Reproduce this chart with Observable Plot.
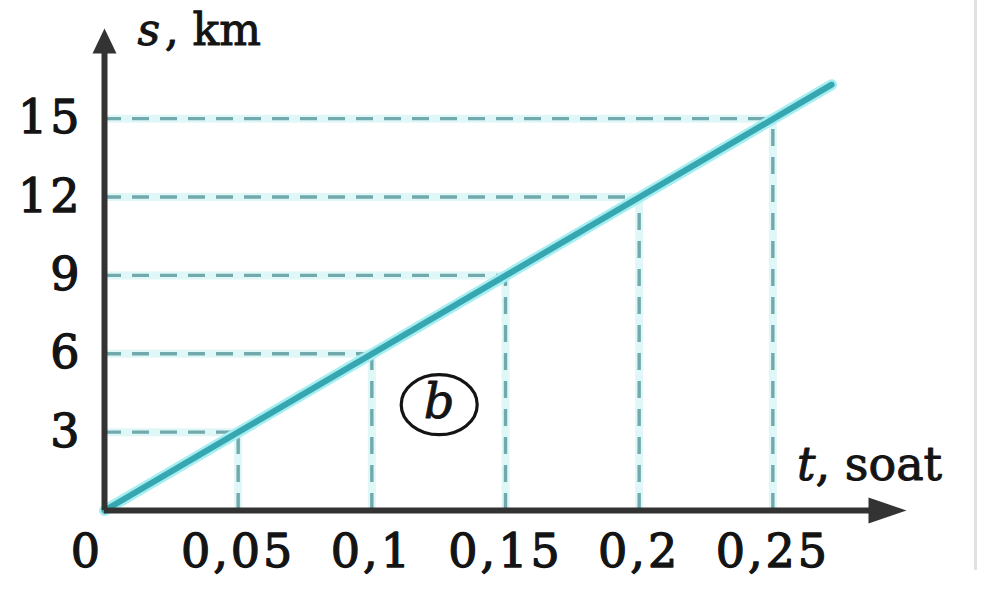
<!DOCTYPE html>
<html>
<head>
<meta charset="utf-8">
<script src="https://cdn.jsdelivr.net/npm/d3@7"></script>
<script src="https://cdn.jsdelivr.net/npm/@observablehq/plot@0.6"></script>
<style>
  html, body { margin: 0; padding: 0; background: #fff; }
  #wrap { position: relative; width: 984px; height: 591px; overflow: hidden; }
  #edge { position: absolute; left: 974px; top: 0; width: 3px; height: 570px; background: #e2e2e2; }
  .ticklab text { letter-spacing: 3px; }
</style>
</head>
<body>
<div id="wrap"><div id="chart"></div><div id="edge"></div></div>
<script>
// Tick values and labels
const tTicks = [0.05, 0.1, 0.15, 0.2, 0.25];
const tLabels = ["0,05", "0,1", "0,15", "0,2", "0,25"];
const sTicks = [3, 6, 9, 12, 15];
const sLabels = ["3", "6", "9", "12", "15"];
// Guide points on the line (t, s)
const guideT = [0.05, 0.1, 0.15, 0.2, 0.25];
const guideS = [3, 6, 9, 12, 15];
// The graph line s(t)
const lineT = [0, 0.272];
const lineS = [0, 16.3];
// Axis extents (arrow tips)
const tAxisMax = 0.3;
const sAxisMax = 18.45;
// Annotation "(b)"
const markT = [0.1252];
const markS = [4.05];

const guides = guideT.map((t, i) => ({t, s: guideS[i]}));
const line = lineT.map((t, i) => ({t, s: lineS[i]}));
const xTickData = tTicks.map((t, i) => ({t, label: tLabels[i]}));
const yTickData = sTicks.map((s, i) => ({s, label: sLabels[i]}));

const arrowUp = {draw(ctx) { ctx.moveTo(0, 0); ctx.lineTo(12, 25); ctx.lineTo(-12, 25); ctx.closePath(); }};
const arrowRight = {draw(ctx) { ctx.moveTo(0, 0); ctx.lineTo(-38, 13); ctx.lineTo(-38, -13); ctx.closePath(); }};
const ellipse = {draw(ctx) {
  const rx = 38, ry = 30, k = 0.5523;
  ctx.moveTo(rx, 0);
  ctx.bezierCurveTo(rx, ry * k, rx * k, ry, 0, ry);
  ctx.bezierCurveTo(-rx * k, ry, -rx, ry * k, -rx, 0);
  ctx.bezierCurveTo(-rx, -ry * k, -rx * k, -ry, 0, -ry);
  ctx.bezierCurveTo(rx * k, -ry, rx, -ry * k, rx, 0);
  ctx.closePath();
}};

const guideColor = "#72a9ac";
const haloColor = "#dff7f7";
const axisColor = "#333333";
const ink = "#141414";
const font = "DejaVu Serif";

const chart = Plot.plot({
  width: 984,
  height: 591,
  marginLeft: 104,
  marginRight: 78,
  marginTop: 28,
  marginBottom: 81,
  x: {domain: [0, tAxisMax], axis: null},
  y: {domain: [0, sAxisMax], axis: null},
  style: {background: "#fff", fontFamily: font, overflow: "visible"},
  marks: [
    // halos behind guides
    Plot.ruleX(guides, {x: "t", y1: 0, y2: "s", stroke: haloColor, strokeWidth: 8}),
    Plot.ruleY(guides, {y: "s", x1: 0, x2: "t", stroke: haloColor, strokeWidth: 8}),
    // dashed guides
    Plot.ruleX(guides, {x: "t", y1: 0, y2: "s", stroke: guideColor, strokeWidth: 3.4, strokeDasharray: "17,11"}),
    Plot.ruleY(guides, {y: "s", x1: 0, x2: "t", stroke: guideColor, strokeWidth: 3.4, strokeDasharray: "17,11"}),
    // the graph line with halo
    Plot.line(line, {x: "t", y: "s", stroke: "#a5eef1", strokeWidth: 11, strokeLinecap: "round"}),
    Plot.line(line, {x: "t", y: "s", stroke: "#36a7b1", strokeWidth: 6, strokeLinecap: "round"}),
    // axes
    Plot.ruleY([0], {x1: 0, x2: tAxisMax * 0.96, stroke: axisColor, strokeWidth: 6}),
    Plot.ruleX([0], {y1: 0, y2: sAxisMax * 0.97, stroke: axisColor, strokeWidth: 6}),
    Plot.dot([{t: tAxisMax, s: 0}], {x: "t", y: "s", symbol: arrowRight, fill: axisColor, stroke: "none", r: 10}),
    Plot.dot([{t: 0, s: sAxisMax}], {x: "t", y: "s", symbol: arrowUp, fill: axisColor, stroke: "none", r: 10}),
    // tick labels
    Plot.text(xTickData, {x: "t", y: 0, text: "label", dy: 42, fontSize: 46, fill: ink, stroke: ink, strokeWidth: 1.3, lineAnchor: "middle", textAnchor: "middle", className: "ticklab"}),
    Plot.text([{t: 0, label: "0"}], {x: "t", y: 0, text: "label", dx: -19, dy: 42, fontSize: 46, fill: ink, stroke: ink, strokeWidth: 1.3, lineAnchor: "middle"}),
    Plot.text(yTickData, {x: 0, y: "s", text: "label", dx: -22, fontSize: 46, fill: ink, stroke: ink, strokeWidth: 1.3, textAnchor: "end", lineAnchor: "middle", className: "ticklab"}),
    // axis titles
    Plot.text([{t: 0.0123, s: 17.8}], {x: "t", y: "s", text: () => "s", fontSize: 44, fontStyle: "italic", fill: ink, stroke: ink, strokeWidth: 1, textAnchor: "start", lineAnchor: "bottom"}),
    Plot.text([{t: 0.0225, s: 17.8}], {x: "t", y: "s", text: () => ", km", fontSize: 44, fill: ink, stroke: ink, strokeWidth: 1, textAnchor: "start", lineAnchor: "bottom"}),
    Plot.text([{t: 0.259, s: 1.15}], {x: "t", y: "s", text: () => "t", fontSize: 46, fontStyle: "italic", fill: ink, stroke: ink, strokeWidth: 1, textAnchor: "start", lineAnchor: "bottom"}),
    Plot.text([{t: 0.266, s: 1.15}], {x: "t", y: "s", text: () => ", soat", fontSize: 46, fill: ink, stroke: ink, strokeWidth: 1, textAnchor: "start", lineAnchor: "bottom"}),
    // (b) annotation
    Plot.dot(markT.map((t, i) => ({t, s: markS[i]})), {x: "t", y: "s", symbol: ellipse, stroke: ink, strokeWidth: 3.2, fill: "none", r: 10}),
    Plot.text(markT.map((t, i) => ({t, s: markS[i]})), {x: "t", y: "s", text: () => "b", fontSize: 48, fontStyle: "italic", fill: ink, stroke: ink, strokeWidth: 0.8, lineAnchor: "middle", dy: -2})
  ]
});
document.getElementById("chart").appendChild(chart);
</script>
</body>
</html>
